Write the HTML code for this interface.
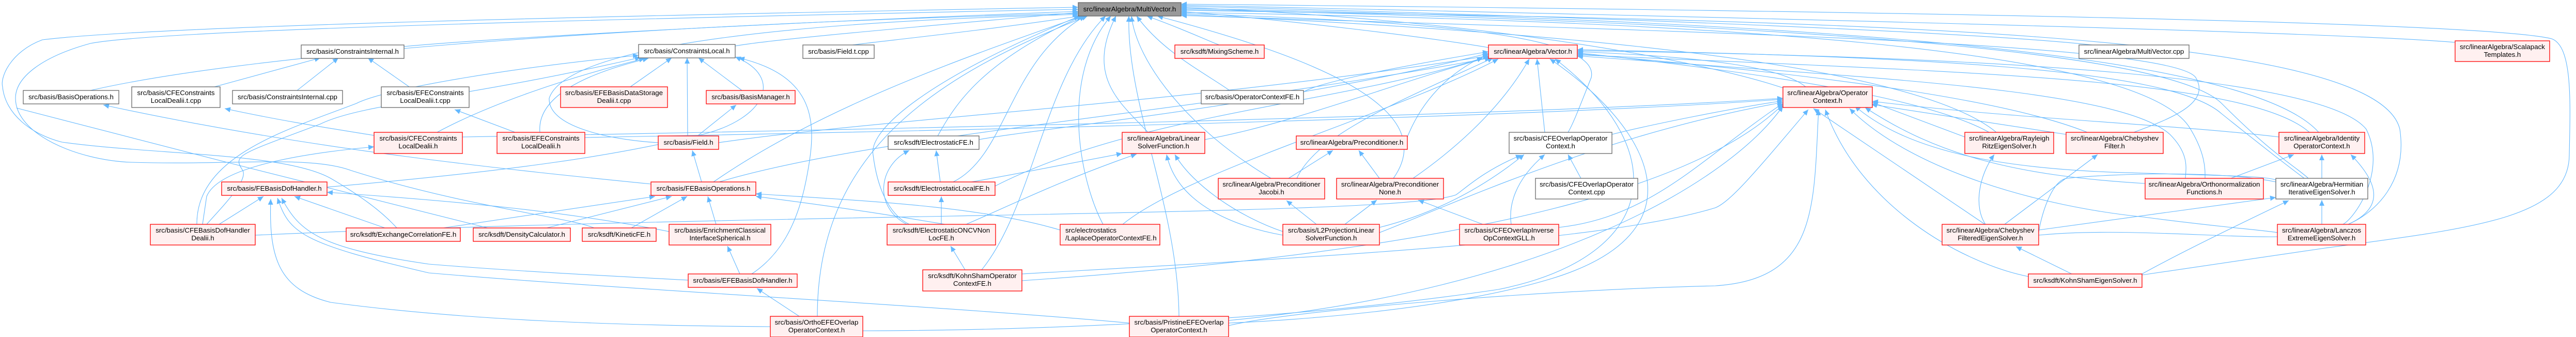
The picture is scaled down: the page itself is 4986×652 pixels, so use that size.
<!DOCTYPE html>
<html><head><meta charset="utf-8"><style>
html,body{margin:0;padding:0;background:#fff;}
svg{display:block;}
text{font-family:"Liberation Sans",Arial,sans-serif;font-size:13.3px;fill:#000;}
.r{fill:#fff0f0;stroke:#ff0000;stroke-width:1.3;}
.w{fill:#fff;stroke:#666;stroke-width:1.3;}
.g{fill:#999;stroke:#666;stroke-width:1.3;}
.e{fill:none;stroke:#63b8ff;stroke-width:1.1;marker-start:url(#a);}
.n{fill:none;stroke:#63b8ff;stroke-width:1.1;}
</style></head><body>
<svg width="4986" height="652" viewBox="0 0 4986 652" xmlns="http://www.w3.org/2000/svg">
<defs><marker id="a" markerUnits="userSpaceOnUse" markerWidth="12" markerHeight="10" refX="11" refY="5" orient="auto-start-reverse"><path d="M0,0 L11,5 L0,10 z" fill="#63b8ff"/></marker></defs>
<g>
<!-- to MultiVector from left -->
<path class="e" d="M2087,22 C1600,40 1000,70 782,90"/>
<path class="e" d="M2087,26 C1300,45 500,100 175,175"/>
<path class="e" d="M2087,14 C1200,30 300,50 82,77 C20,100 0,150 5,168 C10,220 60,260 120,275 C300,300 550,295 640,345 C700,380 740,410 768,441"/>
<path class="e" d="M2087,18 C1000,40 300,60 175,84 C80,110 30,150 30,190 C30,260 150,310 254,314 C450,320 600,300 680,330 C900,400 1100,420 1150,441"/>
<path class="n" d="M32,209 C300,280 700,380 944,441"/>
<path class="e" d="M2087,24 C1800,50 1500,75 1423,89"/>
<path class="e" d="M2090,31 C1900,60 1700,80 1650,87"/>
<path class="e" d="M2095,31 C1900,120 1850,200 1815,263"/>
<path class="e" d="M2100,31 C1950,120 1950,300 1845,352"/>
<path class="e" d="M2090,31 C1800,150 1680,250 1690,300 C1700,380 1730,420 1760,434"/>
<path class="e" d="M2140,31 C2020,150 2000,400 1900,522"/>
<path class="e" d="M2150,31 C2050,150 2090,350 2135,434"/>
<path class="e" d="M2160,31 C2100,150 2170,200 2222,256"/>
<path class="e" d="M2185,31 C2180,200 2280,400 2282,612"/>
<path class="e" d="M2105,31 C1800,150 1582,300 1582,612"/>
<path class="e" d="M2220,31 C2300,60 2340,80 2360,87"/>
<path class="e" d="M2200,31 C2250,100 2330,140 2380,175"/>
<path class="e" d="M2190,31 C2200,120 2300,250 2460,345"/>
<path class="e" d="M2095,31 C1900,100 1600,200 1381,352"/>
<path class="e" d="M2087,28 C1600,40 1100,80 1063,190 C1060,250 1200,272 1274,276"/>
<!-- to MultiVector from right -->
<path class="e" d="M2286,22 C2500,40 2750,70 2881,92"/>
<path class="e" d="M2286,26 C2700,40 3100,60 3080,150 C3060,200 3045,240 3035,256"/>
<path class="e" d="M2286,14 C2900,40 3300,120 3451,170"/>
<path class="e" d="M2286,12 C3000,30 3800,60 4050,87"/>
<path class="e" d="M2286,10 C3200,30 4500,60 4752,82"/>
<path class="e" d="M2286,8 C3500,20 4800,40 4939,75 C4980,90 4975,200 4973,300 C4972,420 4800,440 4500,480 C4300,510 4200,525 4146,532"/>
<path class="e" d="M2286,16 C3500,40 4350,100 4488,256"/>
<path class="e" d="M2286,18 C3500,45 4200,100 4300,200 C4400,300 4440,320 4468,345"/>
<path class="e" d="M2286,20 C3600,40 4600,60 4645,250 C4660,350 4600,410 4545,434"/>
<path class="e" d="M2286,24 C3300,40 4150,90 4240,250 C4270,300 4268,330 4268,345"/>
<path class="e" d="M2286,28 C3000,60 3700,120 3864,256"/>
<path class="e" d="M2286,30 C3200,60 4200,80 4250,150 C4280,200 4200,230 4130,256"/>
<path class="e" d="M2240,31 C2500,100 2800,200 2697,345"/>
<!-- ConstraintsInternal -->
<path class="e" d="M620,112 L415,168"/>
<path class="e" d="M655,112 L575,175"/>
<path class="e" d="M712,112 L792,168"/>
<path class="e" d="M435,210 C550,235 650,250 724,262"/>
<path class="e" d="M880,212 L997,256"/>
<path class="e" d="M200,203 C600,290 1000,330 1260,356"/>
<!-- ConstraintsLocal -->
<path class="e" d="M1248,113 C1100,150 950,200 846,256"/>
<path class="e" d="M1255,113 C1100,150 1040,200 1045,256"/>
<path class="e" d="M1300,112 L1220,168"/>
<path class="e" d="M1330,112 L1331,263"/>
<path class="e" d="M1352,112 L1436,175"/>
<path class="e" d="M1425,203 L1350,263"/>
<path class="e" d="M1340,291 L1358,352"/>
<path class="e" d="M1423,110 C1520,150 1480,230 1360,260 C1200,300 1000,330 633,362"/>
<path class="e" d="M1430,112 C1590,150 1580,250 1560,350 C1540,450 1500,500 1455,530"/>
<path class="e" d="M1236,107 C1000,130 750,170 690,200 C560,250 380,300 381,434"/>
<path class="e" d="M1240,111 C900,190 700,200 620,240 C460,300 450,300 470,330 C480,350 430,400 400,434"/>
<!-- FEBasisOperations -->
<path class="e" d="M1300,380 L1058,441"/>
<path class="e" d="M1330,380 L1222,441"/>
<path class="e" d="M1268,380 L858,441"/>
<path class="e" d="M1370,380 L1386,434"/>
<path class="e" d="M1463,375 C1700,390 1900,400 2052,445"/>
<path class="e" d="M1463,380 C1700,410 1800,430 1927,450"/>
<path class="e" d="M1408,476 L1432,530"/>
<path class="e" d="M1465,558 L1547,612"/>
<!-- FEBasisDofHandler -->
<path class="e" d="M510,380 L424,434"/>
<path class="e" d="M570,380 L745,441"/>
<path class="e" d="M633,372 C900,390 1100,410 1295,448"/>
<path class="e" d="M545,383 C580,450 620,480 830,511 C1000,525 1200,535 1332,542"/>
<path class="e" d="M537,383 C560,450 580,470 830,528 C1200,560 1800,590 2186,625"/>
<path class="e" d="M524,385 C520,500 540,560 640,585 C900,620 1200,630 1491,632"/>
<path class="e" d="M724,284 C550,300 420,330 400,380 L392,434"/>
<!-- electrostatics group -->
<path class="e" d="M2172,297 C2050,320 1950,340 1880,352"/>
<path class="e" d="M2200,298 C2050,350 1950,400 1870,434"/>
<path class="e" d="M1822,380 L1822,434"/>
<path class="e" d="M1812,291 L1820,352"/>
<path class="e" d="M1760,291 C1700,320 1690,400 1755,434"/>
<path class="e" d="M1840,476 L1868,522"/>
<path class="e" d="M2490,388 L2548,434"/>
<path class="e" d="M2665,387 L2603,434"/>
<path class="e" d="M2274,299 C2310,360 2400,420 2483,448"/>
<path class="e" d="M2258,299 C2280,400 2400,440 2483,455"/>
<path class="e" d="M2580,291 L2494,345"/>
<path class="e" d="M2630,291 L2670,345"/>
<path class="e" d="M2745,387 L2870,434"/>
<path class="e" d="M2990,299 C2930,350 2920,400 2925,434"/>
<path class="e" d="M3035,299 L3060,345"/>
<path class="e" d="M2950,299 C2850,380 2750,420 2670,440"/>
<path class="e" d="M2945,300 C2870,330 2830,370 2818,377 C2700,420 1500,410 494,455"/>
<!-- Vector -->
<path class="e" d="M2975,114 L2990,256"/>
<path class="e" d="M2881,105 C2800,140 2750,200 2724,265"/>
<path class="e" d="M2960,114 C2900,220 2800,300 2735,345"/>
<path class="e" d="M2885,110 C2700,160 2500,240 2332,270"/>
<path class="e" d="M2890,112 C2700,200 2550,260 2510,345"/>
<path class="e" d="M2881,100 C2700,130 2550,160 2523,178"/>
<path class="e" d="M3000,114 C3200,250 3300,450 3000,540 C2800,600 2500,620 2378,625"/>
<path class="e" d="M3010,114 C3250,300 3200,500 2900,560 C2500,620 2000,640 1670,640"/>
<path class="e" d="M2900,114 C2700,220 2300,330 2173,434"/>
<path class="e" d="M2881,103 C2500,200 2000,250 1895,270"/>
<path class="e" d="M2881,108 C2300,200 1700,230 1391,276"/>
<path class="e" d="M2885,112 C2300,220 1700,260 1392,352"/>
<path class="e" d="M2870,112 C2600,200 2200,220 1926,360"/>
<path class="e" d="M3053,100 C3300,110 3450,130 3495,168"/>
<path class="e" d="M3053,102 C3500,150 3750,200 3850,256"/>
<path class="e" d="M3053,104 C3600,150 3900,200 4040,256"/>
<path class="e" d="M3053,106 C3800,140 4350,150 4470,256"/>
<path class="e" d="M3053,96 C3700,110 4200,130 4300,220 C4400,300 4440,330 4460,345"/>
<path class="e" d="M3053,98 C3900,110 4500,150 4580,250 C4620,330 4560,420 4535,434"/>
<path class="e" d="M3053,108 C3600,150 4100,170 4200,260 C4240,300 4230,330 4230,345"/>
<!-- OperatorContext -->
<path class="e" d="M3451,195 C3350,210 3200,240 3120,260"/>
<path class="e" d="M3451,200 C3300,300 3200,420 3017,440"/>
<path class="e" d="M3451,205 C3350,350 3000,560 2378,620"/>
<path class="e" d="M3451,202 C3300,350 2900,480 1978,543"/>
<path class="e" d="M3451,190 C3000,220 2000,245 895,265"/>
<path class="e" d="M3451,192 C3000,225 2000,250 1132,266"/>
<path class="e" d="M3451,198 C3100,260 2800,400 2670,450"/>
<path class="e" d="M3624,198 L3803,265"/>
<path class="e" d="M3622,202 L3999,260"/>
<path class="e" d="M3510,210 L3842,434"/>
<path class="e" d="M3533,212 C3600,400 3800,510 3926,535"/>
<path class="e" d="M3580,210 C3700,330 3950,400 4150,420 C4300,440 4380,445 4408,450"/>
<path class="e" d="M3590,205 C3700,300 3900,330 4150,335 C4300,340 4380,340 4405,348"/>
<path class="e" d="M3624,196 C3900,230 4200,240 4411,265"/>
<path class="e" d="M3610,208 C3750,300 3900,340 4152,355"/>
<path class="e" d="M3520,212 C3510,400 3520,540 3320,553 C3000,560 2500,600 2378,630"/>
<path class="e" d="M3500,212 C3400,330 3350,390 3320,402 C3100,470 2500,500 1978,530"/>
<!-- eigen solvers -->
<path class="e" d="M3860,299 C3830,340 3820,400 3843,434"/>
<path class="e" d="M4060,299 L3880,434"/>
<path class="e" d="M3902,477 L4010,530"/>
<path class="e" d="M4405,382 C4200,410 4050,430 3946,445"/>
<path class="e" d="M4430,388 C4300,450 4200,500 4146,530"/>
<path class="e" d="M4494,387 L4494,434"/>
<path class="e" d="M4494,299 L4494,345"/>
<path class="e" d="M4440,299 L4318,345"/>
<path class="e" d="M4550,299 C4600,350 4620,400 4545,434"/>
<path class="n" d="M4405,352 C4300,330 4100,335 4000,345 C3970,350 3950,420 3946,450"/>
<path class="n" d="M4408,458 C4300,460 4100,440 3946,455"/>
</g>
<g>
<rect class="g" x="2087" y="5" width="199" height="26"/><text x="2186.5" y="22" text-anchor="middle">src/linearAlgebra/MultiVector.h</text>
<rect class="w" x="583" y="87" width="199" height="26"/><text x="682.5" y="104" text-anchor="middle">src/basis/ConstraintsInternal.h</text>
<rect class="w" x="45" y="175" width="185" height="26"/><text x="137.5" y="192" text-anchor="middle">src/basis/BasisOperations.h</text>
<rect class="w" x="255" y="168" width="171" height="40"/><text x="340.5" y="184" text-anchor="middle">src/basis/CFEConstraints</text><text x="340.5" y="199" text-anchor="middle">LocalDealii.t.cpp</text>
<rect class="w" x="450" y="175" width="213" height="26"/><text x="556.5" y="192" text-anchor="middle">src/basis/ConstraintsInternal.cpp</text>
<rect class="w" x="738" y="168" width="170" height="40"/><text x="823" y="184" text-anchor="middle">src/basis/EFEConstraints</text><text x="823" y="199" text-anchor="middle">LocalDealii.t.cpp</text>
<rect class="r" x="724" y="256" width="171" height="41"/><text x="809.5" y="272" text-anchor="middle">src/basis/CFEConstraints</text><text x="809.5" y="287" text-anchor="middle">LocalDealii.h</text>
<rect class="r" x="429" y="352" width="204" height="26"/><text x="531" y="369" text-anchor="middle">src/basis/FEBasisDofHandler.h</text>
<rect class="r" x="291" y="434" width="203" height="40"/><text x="392.5" y="450" text-anchor="middle">src/basis/CFEBasisDofHandler</text><text x="392.5" y="465" text-anchor="middle">Dealii.h</text>
<rect class="r" x="670" y="441" width="221" height="26"/><text x="780.5" y="458" text-anchor="middle">src/ksdft/ExchangeCorrelationFE.h</text>
<rect class="w" x="1236" y="86" width="187" height="26"/><text x="1329.5" y="103" text-anchor="middle">src/basis/ConstraintsLocal.h</text>
<rect class="w" x="1554" y="87" width="138" height="26"/><text x="1623" y="104" text-anchor="middle">src/basis/Field.t.cpp</text>
<rect class="r" x="1085" y="168" width="207" height="40"/><text x="1188.5" y="184" text-anchor="middle">src/basis/EFEBasisDataStorage</text><text x="1188.5" y="199" text-anchor="middle">Dealii.t.cpp</text>
<rect class="r" x="1367" y="175" width="172" height="26"/><text x="1453" y="192" text-anchor="middle">src/basis/BasisManager.h</text>
<rect class="r" x="962" y="256" width="170" height="41"/><text x="1047" y="272" text-anchor="middle">src/basis/EFEConstraints</text><text x="1047" y="287" text-anchor="middle">LocalDealii.h</text>
<rect class="r" x="1274" y="263" width="117" height="26"/><text x="1332.5" y="280" text-anchor="middle">src/basis/Field.h</text>
<rect class="r" x="1260" y="352" width="203" height="26"/><text x="1361.5" y="369" text-anchor="middle">src/basis/FEBasisOperations.h</text>
<rect class="r" x="916" y="441" width="188" height="26"/><text x="1010" y="458" text-anchor="middle">src/ksdft/DensityCalculator.h</text>
<rect class="r" x="1127" y="441" width="143" height="26"/><text x="1198.5" y="458" text-anchor="middle">src/ksdft/KineticFE.h</text>
<rect class="r" x="1295" y="434" width="197" height="40"/><text x="1393.5" y="450" text-anchor="middle">src/basis/EnrichmentClassical</text><text x="1393.5" y="465" text-anchor="middle">InterfaceSpherical.h</text>
<rect class="r" x="1332" y="530" width="211" height="26"/><text x="1437.5" y="547" text-anchor="middle">src/basis/EFEBasisDofHandler.h</text>
<rect class="r" x="1491" y="612" width="179" height="40"/><text x="1580.5" y="628" text-anchor="middle">src/basis/OrthoEFEOverlap</text><text x="1580.5" y="643" text-anchor="middle">OperatorContext.h</text>
<rect class="r" x="2274" y="87" width="173" height="26"/><text x="2360.5" y="104" text-anchor="middle">src/ksdft/MixingScheme.h</text>
<rect class="w" x="2325" y="175" width="198" height="26"/><text x="2424" y="192" text-anchor="middle">src/basis/OperatorContextFE.h</text>
<rect class="w" x="1719" y="263" width="176" height="26"/><text x="1807" y="280" text-anchor="middle">src/ksdft/ElectrostaticFE.h</text>
<rect class="r" x="2172" y="256" width="160" height="41"/><text x="2252" y="272" text-anchor="middle">src/linearAlgebra/Linear</text><text x="2252" y="287" text-anchor="middle">SolverFunction.h</text>
<rect class="r" x="1719" y="352" width="207" height="26"/><text x="1822.5" y="369" text-anchor="middle">src/ksdft/ElectrostaticLocalFE.h</text>
<rect class="r" x="2358" y="345" width="206" height="40"/><text x="2461" y="361" text-anchor="middle">src/linearAlgebra/Preconditioner</text><text x="2461" y="376" text-anchor="middle">Jacobi.h</text>
<rect class="r" x="1717" y="434" width="210" height="40"/><text x="1822" y="450" text-anchor="middle">src/ksdft/ElectrostaticONCVNon</text><text x="1822" y="465" text-anchor="middle">LocFE.h</text>
<rect class="r" x="2052" y="434" width="193" height="40"/><text x="2062" y="450">src/electrostatics</text><text x="2062" y="465">/LaplaceOperatorContextFE.h</text>
<rect class="r" x="1786" y="522" width="192" height="41"/><text x="1882" y="538" text-anchor="middle">src/ksdft/KohnShamOperator</text><text x="1882" y="553" text-anchor="middle">ContextFE.h</text>
<rect class="r" x="2186" y="612" width="192" height="40"/><text x="2282" y="628" text-anchor="middle">src/basis/PristineEFEOverlap</text><text x="2282" y="643" text-anchor="middle">OperatorContext.h</text>
<rect class="r" x="2483" y="434" width="187" height="40"/><text x="2576.5" y="450" text-anchor="middle">src/basis/L2ProjectionLinear</text><text x="2576.5" y="465" text-anchor="middle">SolverFunction.h</text>
<rect class="r" x="2881" y="87" width="172" height="26"/><text x="2967" y="104" text-anchor="middle">src/linearAlgebra/Vector.h</text>
<rect class="r" x="2509" y="263" width="215" height="26"/><text x="2616.5" y="280" text-anchor="middle">src/linearAlgebra/Preconditioner.h</text>
<rect class="w" x="2921" y="256" width="199" height="41"/><text x="3020.5" y="272" text-anchor="middle">src/basis/CFEOverlapOperator</text><text x="3020.5" y="287" text-anchor="middle">Context.h</text>
<rect class="r" x="2587" y="345" width="207" height="40"/><text x="2690.5" y="361" text-anchor="middle">src/linearAlgebra/Preconditioner</text><text x="2690.5" y="376" text-anchor="middle">None.h</text>
<rect class="w" x="2972" y="345" width="198" height="40"/><text x="3071" y="361" text-anchor="middle">src/basis/CFEOverlapOperator</text><text x="3071" y="376" text-anchor="middle">Context.cpp</text>
<rect class="r" x="2825" y="434" width="192" height="40"/><text x="2921" y="450" text-anchor="middle">src/basis/CFEOverlapInverse</text><text x="2921" y="465" text-anchor="middle">OpContextGLL.h</text>
<rect class="w" x="4024" y="87" width="213" height="26"/><text x="4130.5" y="104" text-anchor="middle">src/linearAlgebra/MultiVector.cpp</text>
<rect class="r" x="3451" y="168" width="173" height="40"/><text x="3537.5" y="184" text-anchor="middle">src/linearAlgebra/Operator</text><text x="3537.5" y="199" text-anchor="middle">Context.h</text>
<rect class="r" x="3803" y="256" width="172" height="41"/><text x="3889" y="272" text-anchor="middle">src/linearAlgebra/Rayleigh</text><text x="3889" y="287" text-anchor="middle">RitzEigenSolver.h</text>
<rect class="r" x="3999" y="256" width="188" height="41"/><text x="4093" y="272" text-anchor="middle">src/linearAlgebra/Chebyshev</text><text x="4093" y="287" text-anchor="middle">Filter.h</text>
<rect class="r" x="3759" y="434" width="187" height="40"/><text x="3852.5" y="450" text-anchor="middle">src/linearAlgebra/Chebyshev</text><text x="3852.5" y="465" text-anchor="middle">FilteredEigenSolver.h</text>
<rect class="r" x="3926" y="530" width="220" height="26"/><text x="4036" y="547" text-anchor="middle">src/ksdft/KohnShamEigenSolver.h</text>
<rect class="r" x="4752" y="79" width="183" height="40"/><text x="4843.5" y="95" text-anchor="middle">src/linearAlgebra/Scalapack</text><text x="4843.5" y="110" text-anchor="middle">Templates.h</text>
<rect class="r" x="4411" y="256" width="166" height="41"/><text x="4494" y="272" text-anchor="middle">src/linearAlgebra/Identity</text><text x="4494" y="287" text-anchor="middle">OperatorContext.h</text>
<rect class="r" x="4152" y="345" width="229" height="40"/><text x="4266.5" y="361" text-anchor="middle">src/linearAlgebra/Orthonormalization</text><text x="4266.5" y="376" text-anchor="middle">Functions.h</text>
<rect class="w" x="4405" y="345" width="178" height="40"/><text x="4494" y="361" text-anchor="middle">src/linearAlgebra/Hermitian</text><text x="4494" y="376" text-anchor="middle">IterativeEigenSolver.h</text>
<rect class="r" x="4408" y="434" width="171" height="40"/><text x="4493.5" y="450" text-anchor="middle">src/linearAlgebra/Lanczos</text><text x="4493.5" y="465" text-anchor="middle">ExtremeEigenSolver.h</text>
</g>
</svg>
</body></html>
